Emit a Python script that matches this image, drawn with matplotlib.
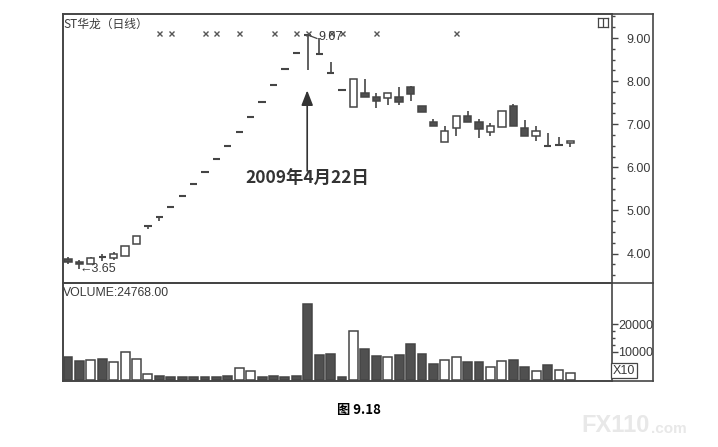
import matplotlib
matplotlib.use('Agg')
import matplotlib.pyplot as plt
from matplotlib.lines import Line2D
from matplotlib.patches import Rectangle
import matplotlib.ticker as mticker

# daily candles (ST华龙)
opens = [3.88, 3.81, 3.75, 3.91, 3.90, 3.94, 4.21, 4.63, 4.84, 5.08,
         5.34, 5.61, 5.89, 6.19, 6.50, 6.82, 7.16, 7.52, 7.90, 8.29,
         8.66, 9.07, 8.62, 8.18, 7.80, 7.40, 7.73, 7.63, 7.60, 7.63,
         7.87, 7.43, 7.05, 6.59, 6.92, 7.19, 7.05, 6.83, 6.93, 7.43,
         6.92, 6.73, 6.50, 6.52, 6.56]
highs = [3.91, 3.86, 3.92, 3.99, 4.03, 4.17, 4.40, 4.63, 4.84, 5.08,
         5.34, 5.61, 5.89, 6.19, 6.50, 6.82, 7.16, 7.52, 7.90, 8.29,
         8.66, 9.07, 9.00, 8.45, 7.80, 8.04, 8.04, 7.72, 7.73, 7.87,
         7.88, 7.43, 7.13, 6.96, 7.19, 7.31, 7.12, 7.03, 7.31, 7.47,
         7.10, 6.95, 6.79, 6.70, 6.60]
lows = [3.75, 3.65, 3.75, 3.82, 3.86, 3.94, 4.21, 4.56, 4.76, 5.08,
        5.34, 5.61, 5.89, 6.19, 6.50, 6.82, 7.16, 7.52, 7.90, 8.29,
        8.66, 8.26, 8.62, 8.18, 7.80, 7.40, 7.62, 7.37, 7.45, 7.45,
        7.53, 7.29, 6.97, 6.59, 6.73, 7.04, 6.68, 6.72, 6.93, 6.97,
        6.73, 6.60, 6.50, 6.52, 6.47]
closes = [3.80, 3.75, 3.90, 3.91, 3.99, 4.17, 4.40, 4.63, 4.84, 5.08,
          5.34, 5.61, 5.89, 6.19, 6.50, 6.82, 7.16, 7.52, 7.90, 8.29,
          8.66, 9.07, 8.62, 8.18, 7.80, 8.04, 7.62, 7.55, 7.72, 7.51,
          7.70, 7.29, 6.97, 6.85, 7.19, 7.04, 6.89, 6.96, 7.31, 6.97,
          6.73, 6.85, 6.50, 6.52, 6.60]
volumes = [8300, 6800, 7100, 7500, 6400, 9900, 7400, 2100, 1200, 800,
           800, 800, 800, 800, 1300, 4200, 2900, 800, 1100, 800,
           1100, 27400, 8800, 9300, 800, 17600, 11000, 8600, 8300, 8800,
           12700, 9200, 5600, 7100, 8300, 6300, 6300, 4400, 6500, 7100,
           4400, 3100, 5200, 3300, 2500]
# 1 = hollow (rising) volume bar, 0 = solid
vol_up = [0, 0, 1, 0, 1, 1, 1, 1, 0, 0,
          0, 0, 0, 0, 0, 1, 1, 0, 0, 0,
          0, 0, 0, 0, 0, 1, 0, 0, 1, 0,
          0, 0, 0, 1, 1, 0, 0, 1, 1, 0,
          0, 1, 0, 1, 1]
marker_days = [9, 10, 13, 14, 16, 19, 21, 22, 24, 25, 28, 35]
price_ticks = [4, 5, 6, 7, 8, 9]
vol_ticks = [10000, 20000]

W, H = 718, 447
dark = '#454545'
solid = '#505050'
txt = '#3a3a3a'


def box(x0, y0, x1, y1):
    return [x0 / W, 1 - y1 / H, (x1 - x0) / W, (y1 - y0) / H]


fig = plt.figure(figsize=(W / 100, H / 100), dpi=100)

# outer frame incl. the label column
frame = fig.add_axes(box(62.5, 14, 653, 381))
frame.set_xticks([])
frame.set_yticks([])
frame.patch.set_alpha(0)
for s in frame.spines.values():
    s.set_color(dark)
    s.set_linewidth(1.2)
fig.add_artist(Line2D([62.5 / W, 653 / W], [1 - 283 / H, 1 - 283 / H],
                      color=dark, lw=1.2))

days = list(range(1, len(closes) + 1))
xlim = (0.52, 48.6)

# ---- price panel ----
ax = fig.add_axes(box(62.5, 14, 611.5, 283))
ax.patch.set_alpha(0)
ax.set_xlim(*xlim)
ax.set_ylim(3.316, 9.557)

bw = 0.64
for d, o, h, l, c in zip(days, opens, highs, lows, closes):
    top, bot = max(o, c), min(o, c)
    if h > top:
        ax.vlines(d, top, h, color=dark, lw=1.2)
    if l < bot:
        ax.vlines(d, l, bot, color=dark, lw=1.2)
    if abs(c - o) < 0.005:
        ax.hlines(o, d - bw / 2, d + bw / 2, color=dark, lw=1.5)
    else:
        fc = 'white' if c > o else solid
        ax.add_patch(Rectangle((d - bw / 2, bot), bw, top - bot,
                               facecolor=fc, edgecolor=dark, lw=1.1, zorder=3))

ax.plot(marker_days, [9.12] * len(marker_days), ls='none', marker='x',
        ms=3.6, mew=1.0, color='#555555')

ax.yaxis.tick_right()
ax.set_yticks(price_ticks)
ax.yaxis.set_major_formatter(mticker.FormatStrFormatter('%.2f'))
ax.yaxis.set_minor_locator(mticker.MultipleLocator(0.25))
ax.tick_params(axis='y', which='major', length=4.5, width=1, color=dark,
               pad=6.5, labelsize=9, labelcolor=txt)
ax.tick_params(axis='y', which='minor', length=2.2, width=1, color=dark)
for lab in ax.get_yticklabels():
    lab.set_family('Liberation Sans')
ax.set_xticks([])
for s in ax.spines.values():
    s.set_color(dark)
    s.set_linewidth(1.2)

ax.text(0.002, 0.985, 'ST华龙（日线）', transform=ax.transAxes, ha='left', va='top',
        fontsize=8.5, color=txt, family=['Noto Sans CJK SC', 'DejaVu Sans'])

# 9.07 high marker and 3.65 low marker
ax.plot([22, 22.8], [9.07, 8.99], color=dark, lw=0.9)
ax.text(22.95, 9.02, '9.07', fontsize=9, color=txt, va='center', ha='left',
        family='Liberation Sans')
ax.text(2.0, 3.65, '←3.65', fontsize=9, color=txt, va='center', ha='left',
        family=['Liberation Sans', 'DejaVu Sans'])

# date annotation with arrow
ax.annotate('', xy=(21.95, 7.85), xytext=(21.95, 5.85),
            arrowprops=dict(arrowstyle='-|>,head_width=0.35,head_length=0.9',
                            color='#333333', lw=1.2))
ax.text(22.0, 5.72, '2009年4月22日', fontsize=12.5, fontweight='bold',
        color='#333333', ha='center', va='center',
        family=['Noto Sans CJK SC', 'DejaVu Sans'])

# small icon at top right of the price panel
icon = fig.add_axes(box(598, 17.5, 608, 26.5))
icon.set_xticks([])
icon.set_yticks([])
icon.patch.set_alpha(0)
icon.axvline(0.5, color=dark, lw=0.9)
for s in icon.spines.values():
    s.set_color(dark)
    s.set_linewidth(0.9)

# ---- volume panel ----
av = fig.add_axes(box(62.5, 283, 611.5, 381))
av.patch.set_alpha(0)
av.set_xlim(*xlim)
av.set_ylim(-540, 34840)
for d, v, up in zip(days, volumes, vol_up):
    av.bar(d, v, width=0.78, facecolor='white' if up else solid,
           edgecolor=dark, lw=1.1)

av.yaxis.tick_right()
av.set_yticks(vol_ticks)
av.set_yticklabels([str(t) for t in vol_ticks])
av.yaxis.set_minor_locator(mticker.FixedLocator([12500, 15000, 17500]))
av.tick_params(axis='y', which='major', length=4.5, width=1, color=dark,
               pad=0.5, labelsize=9, labelcolor=txt)
av.tick_params(axis='y', which='minor', length=2.2, width=1, color=dark)
for lab in av.get_yticklabels():
    lab.set_family('Liberation Sans')
av.set_xticks([])
for s in av.spines.values():
    s.set_color(dark)
    s.set_linewidth(1.2)

av.text(0.0, 0.96, 'VOLUME:24768.00', transform=av.transAxes, ha='left',
        va='top', fontsize=8.8, color=txt, family='Liberation Sans')
fig.text(624 / W, 1 - 370.5 / H, 'X10', fontsize=9, color=txt, ha='center',
         va='center', family='Liberation Sans',
         bbox=dict(boxstyle='square,pad=0.12', facecolor='white',
                   edgecolor=dark, lw=0.9))

# caption and watermark
fig.text(359 / W, 1 - 410 / H, '图 9.18', fontsize=9.5, fontweight='bold',
         color='black', ha='center', va='center',
         family=['Noto Sans CJK SC', 'DejaVu Sans'])
fig.text(650 / W, 1 - 426 / H, 'FX110', fontsize=17, fontweight='bold',
         color='#e8e8e8', ha='right', va='center', family='Liberation Sans')
fig.text(651 / W, 1 - 429 / H, '.com', fontsize=11, fontweight='bold',
         color='#e8e8e8', ha='left', va='center', family='Liberation Sans')

fig.savefig('out.png', dpi=100, facecolor='white')
